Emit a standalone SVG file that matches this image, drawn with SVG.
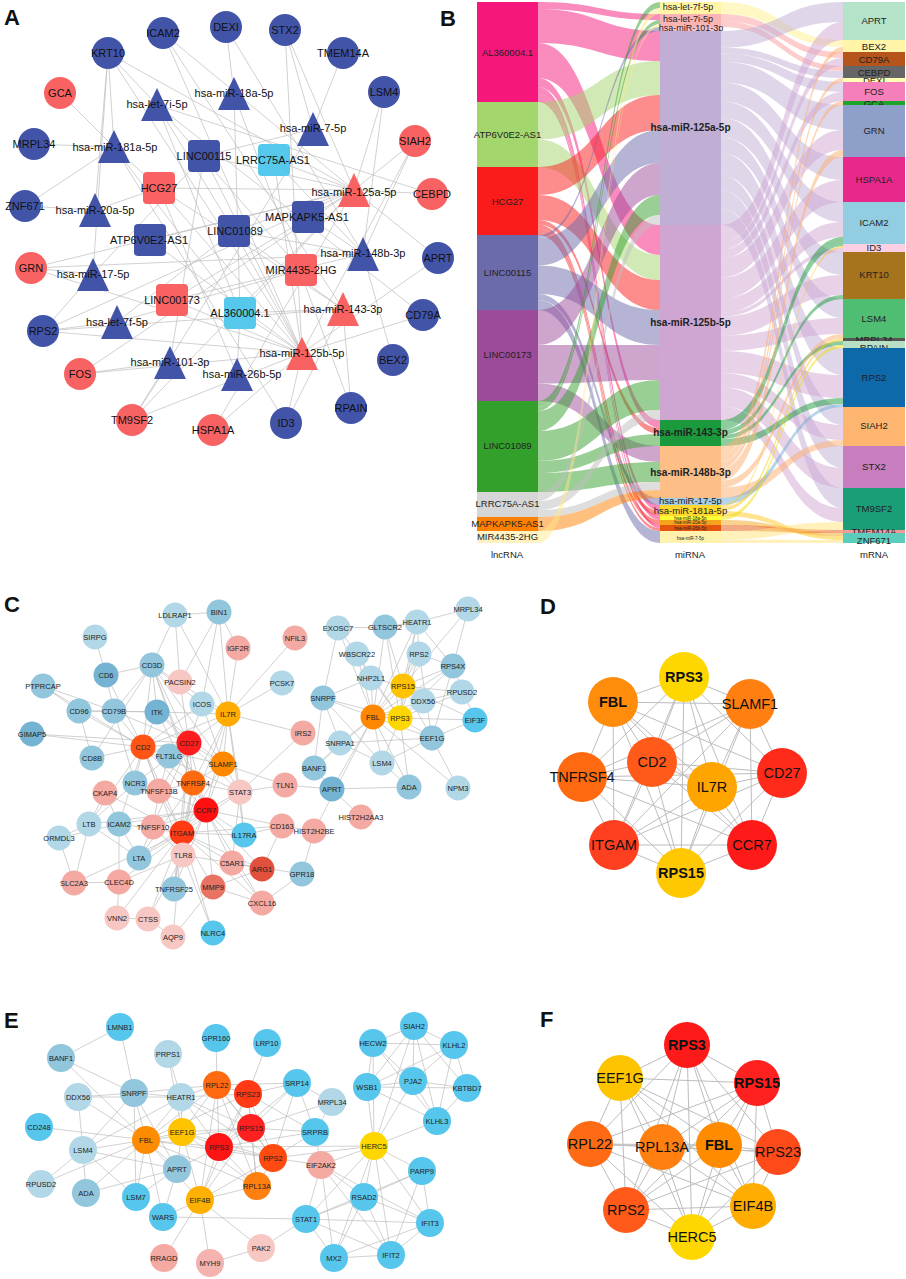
<svg xmlns="http://www.w3.org/2000/svg" width="906" height="1279" viewBox="0 0 906 1279">
<style>
text{font-family:"Liberation Sans",Arial,Helvetica,sans-serif;text-anchor:middle;dominant-baseline:central;fill:#111}
.pl{font-size:22px;font-weight:bold;dominant-baseline:auto;text-anchor:start}
.ta text{font-size:11px}
.ab{fill:#4254a8}.ar{fill:#f96262}.al{fill:#55c8ec}
.ea path{stroke:#bdbdbd;stroke-width:.7;fill:none}
.en path{stroke:#bdbdbd;stroke-width:.7;fill:none}
.ek path{stroke:#bdbdbd;stroke-width:1;fill:none}
.sm text{font-size:7.5px;fill:#222}
.big text{font-size:14.5px}
.bd{font-weight:bold}
.l{fill:#b2d8e8}.m{fill:#92c6dc}.d{fill:#74b4d2}.br{fill:#56c6ec}.p{fill:#f4aaa3}.q{fill:#f7c7c3}
.sk text{font-size:9.5px;fill:#222}
.sk .mi{font-size:9px}
.sk .mb{font-size:10px;font-weight:bold}
.sk .ms{font-size:4.5px}
.fl path{opacity:.5}
.ax{font-size:10px;fill:#666}
</style>

<!-- Panel letters -->
<text class="pl" x="4" y="25">A</text>
<text class="pl" x="440" y="26">B</text>
<text class="pl" x="4" y="612">C</text>
<text class="pl" x="540" y="614">D</text>
<text class="pl" x="4" y="1028">E</text>
<text class="pl" x="540" y="1027">F</text>

<!-- ================= Panel A connectors ================= -->
<g id="a-connectors" class="ea">
<path d="M240 313L157 105"/><path d="M240 313L354 190"/><path d="M240 313L302 353"/><path d="M240 313L343 309"/><path d="M240 313L114 147"/><path d="M240 313L234 94"/><path d="M240 313L237 374"/>
<path d="M150 240L354 190"/><path d="M150 240L302 353"/>
<path d="M159 188L354 190"/><path d="M159 188L302 353"/><path d="M159 188L343 309"/><path d="M159 188L114 147"/><path d="M159 188L95 210"/><path d="M159 188L237 374"/>
<path d="M204 156L170 362"/><path d="M204 156L354 190"/><path d="M204 156L302 353"/><path d="M204 156L93 274"/><path d="M204 156L313 129"/>
<path d="M172 300L354 190"/><path d="M172 300L302 353"/><path d="M172 300L363 254"/>
<path d="M234 231L117 322"/><path d="M234 231L157 105"/><path d="M234 231L354 190"/><path d="M234 231L302 353"/><path d="M234 231L343 309"/><path d="M234 231L363 254"/>
<path d="M274 160L354 190"/><path d="M274 160L302 353"/><path d="M274 160L363 254"/>
<path d="M308 217L363 254"/><path d="M301 270L117 322"/><path d="M301 270L157 105"/>
<path d="M108 53L114 147"/><path d="M108 53L95 210"/><path d="M108 53L93 274"/><path d="M108 53L157 105"/><path d="M108 53L354 190"/><path d="M108 53L302 353"/>
<path d="M163 33L354 190"/><path d="M163 33L302 353"/><path d="M163 33L343 309"/>
<path d="M226 27L234 94"/><path d="M226 27L363 254"/>
<path d="M285 30L313 129"/><path d="M285 30L354 190"/><path d="M285 30L302 353"/>
<path d="M343 53L313 129"/>
<path d="M384 92L354 190"/><path d="M384 92L363 254"/>
<path d="M60 93L114 147"/>
<path d="M415 141L354 190"/><path d="M415 141L302 353"/><path d="M415 141L363 254"/>
<path d="M34 144L114 147"/>
<path d="M432 194L157 105"/><path d="M432 194L354 190"/>
<path d="M25 206L114 147"/><path d="M25 206L95 210"/>
<path d="M31 268L93 274"/><path d="M31 268L354 190"/><path d="M31 268L302 353"/><path d="M31 268L363 254"/>
<path d="M438 258L354 190"/><path d="M438 258L302 353"/>
<path d="M43 331L117 322"/><path d="M43 331L93 274"/><path d="M43 331L354 190"/><path d="M43 331L302 353"/><path d="M43 331L343 309"/>
<path d="M423 315L157 105"/><path d="M423 315L302 353"/>
<path d="M80 374L170 362"/><path d="M80 374L354 190"/><path d="M80 374L302 353"/>
<path d="M393 360L363 254"/>
<path d="M132 420L170 362"/><path d="M132 420L354 190"/><path d="M132 420L302 353"/><path d="M132 420L313 129"/>
<path d="M213 430L354 190"/><path d="M213 430L302 353"/>
<path d="M286 423L302 353"/><path d="M286 423L343 309"/><path d="M286 423L114 147"/>
<path d="M351 408L343 309"/><path d="M351 408L234 94"/>
</g>

<!-- ================= Panel A nodes ================= -->
<g class="ta">
<g id="a-KRT10"><circle cx="108" cy="53" r="16" class="ab"/><text x="108" y="53">KRT10</text></g>
<g id="a-ICAM2"><circle cx="163" cy="33" r="16" class="ab"/><text x="163" y="33">ICAM2</text></g>
<g id="a-DEXI"><circle cx="226" cy="27" r="16" class="ab"/><text x="226" y="27">DEXI</text></g>
<g id="a-STX2"><circle cx="285" cy="30" r="16" class="ab"/><text x="285" y="30">STX2</text></g>
<g id="a-TMEM14A"><circle cx="343" cy="53" r="16" class="ab"/><text x="343" y="53">TMEM14A</text></g>
<g id="a-LSM4"><circle cx="384" cy="92" r="16" class="ab"/><text x="384" y="92">LSM4</text></g>
<g id="a-GCA"><circle cx="60" cy="93" r="16" class="ar"/><text x="60" y="93">GCA</text></g>
<g id="a-SIAH2"><circle cx="415" cy="141" r="16" class="ar"/><text x="415" y="141">SIAH2</text></g>
<g id="a-MRPL34"><circle cx="34" cy="144" r="16" class="ab"/><text x="34" y="144">MRPL34</text></g>
<g id="a-CEBPD"><circle cx="432" cy="194" r="16" class="ar"/><text x="432" y="194">CEBPD</text></g>
<g id="a-ZNF671"><circle cx="25" cy="206" r="16" class="ab"/><text x="25" y="206">ZNF671</text></g>
<g id="a-GRN"><circle cx="31" cy="268" r="16" class="ar"/><text x="31" y="268">GRN</text></g>
<g id="a-APRT"><circle cx="438" cy="258" r="16" class="ab"/><text x="438" y="258">APRT</text></g>
<g id="a-RPS2"><circle cx="43" cy="331" r="16" class="ab"/><text x="43" y="331">RPS2</text></g>
<g id="a-CD79A"><circle cx="423" cy="315" r="16" class="ab"/><text x="423" y="315">CD79A</text></g>
<g id="a-FOS"><circle cx="80" cy="374" r="16" class="ar"/><text x="80" y="374">FOS</text></g>
<g id="a-BEX2"><circle cx="393" cy="360" r="16" class="ab"/><text x="393" y="360">BEX2</text></g>
<g id="a-TM9SF2"><circle cx="132" cy="420" r="16" class="ar"/><text x="132" y="420">TM9SF2</text></g>
<g id="a-HSPA1A"><circle cx="213" cy="430" r="16" class="ar"/><text x="213" y="430">HSPA1A</text></g>
<g id="a-ID3"><circle cx="286" cy="423" r="16" class="ab"/><text x="286" y="423">ID3</text></g>
<g id="a-RPAIN"><circle cx="351" cy="408" r="16" class="ab"/><text x="351" y="408">RPAIN</text></g>

<g id="a-LINC00115"><rect x="188" y="140" width="32" height="32" rx="4" class="ab"/><text x="204" y="156">LINC00115</text></g>
<g id="a-LRRC75A-AS1"><rect x="258" y="144" width="32" height="32" rx="4" class="al"/><text x="273" y="160">LRRC75A-AS1</text></g>
<g id="a-HCG27"><rect x="143" y="172" width="32" height="32" rx="4" class="ar"/><text x="159" y="188">HCG27</text></g>
<g id="a-MAPKAPK5-AS1"><rect x="292" y="201" width="32" height="32" rx="4" class="ab"/><text x="307" y="217">MAPKAPK5-AS1</text></g>
<g id="a-LINC01089"><rect x="218" y="215" width="32" height="32" rx="4" class="ab"/><text x="235" y="231">LINC01089</text></g>
<g id="a-ATP6V0E2-AS1"><rect x="134" y="224" width="32" height="32" rx="4" class="ab"/><text x="149" y="240">ATP6V0E2-AS1</text></g>
<g id="a-MIR4435-2HG"><rect x="285" y="254" width="32" height="32" rx="4" class="ar"/><text x="301" y="270">MIR4435-2HG</text></g>
<g id="a-LINC00173"><rect x="156" y="284" width="32" height="32" rx="4" class="ar"/><text x="172" y="300">LINC00173</text></g>
<g id="a-AL360004.1"><rect x="224" y="297" width="32" height="32" rx="4" class="al"/><text x="240" y="313">AL360004.1</text></g>

<g id="a-let-7i"><polygon points="157,88 141,121 173,121" class="ab"/><text x="157" y="104">hsa-let-7i-5p</text></g>
<g id="a-miR-18a"><polygon points="234,77 218,110 250,110" class="ab"/><text x="234" y="93">hsa-miR-18a-5p</text></g>
<g id="a-miR-7"><polygon points="313,112 297,146 329,146" class="ab"/><text x="313" y="128">hsa-miR-7-5p</text></g>
<g id="a-miR-181a"><polygon points="114,130 98,163 130,163" class="ab"/><text x="115" y="147">hsa-miR-181a-5p</text></g>
<g id="a-miR-20a"><polygon points="95,193 79,227 111,227" class="ab"/><text x="95" y="210">hsa-miR-20a-5p</text></g>
<g id="a-miR-17"><polygon points="93,258 77,291 109,291" class="ab"/><text x="93" y="274">hsa-miR-17-5p</text></g>
<g id="a-let-7f"><polygon points="117,305 101,339 133,339" class="ab"/><text x="117" y="322">hsa-let-7f-5p</text></g>
<g id="a-miR-101"><polygon points="170,346 154,379 186,379" class="ab"/><text x="170" y="362">hsa-miR-101-3p</text></g>
<g id="a-miR-26b"><polygon points="237,358 221,391 253,391" class="ab"/><text x="242" y="374">hsa-miR-26b-5p</text></g>
<g id="a-miR-148b"><polygon points="363,237 347,271 379,271" class="ab"/><text x="363" y="253">hsa-miR-148b-3p</text></g>
<g id="a-miR-125a"><polygon points="354,173 338,207 370,207" class="ar"/><text x="354" y="192">hsa-miR-125a-5p</text></g>
<g id="a-miR-143"><polygon points="343,292 327,326 359,326" class="ar"/><text x="343" y="309">hsa-miR-143-3p</text></g>
<g id="a-miR-125b"><polygon points="302,337 286,370 318,370" class="ar"/><text x="302" y="353">hsa-miR-125b-5p</text></g>
</g>

<!-- ================= Panel B flows ================= -->
<g id="b-connectors" class="fl">
<path fill="#f5177c" d="M538 2C599 2 599 14 660 14L660 20C599 20 599 9 538 9Z"/>
<path fill="#f5177c" d="M538 9C599 9 599 31 660 31L660 61C599 61 599 43 538 43Z"/>
<path fill="#f5177c" d="M538 43C599 43 599 225 660 225L660 255C599 255 599 78 538 78Z"/>
<path fill="#f5177c" d="M538 78C599 78 599 420 660 420L660 428C599 428 599 87 538 87Z"/>
<path fill="#f5177c" d="M538 87C599 87 599 505 660 505L660 511C599 511 599 94 538 94Z"/>
<path fill="#f5177c" d="M538 94C599 94 599 516 660 516L660 520C599 520 599 98.6 538 98.6Z"/>
<path fill="#f5177c" d="M538 98.6C599 98.6 599 525 660 525L660 528C599 528 599 102 538 102Z"/>
<path fill="#a3d66c" d="M538 102C599 102 599 61 660 61L660 95C599 95 599 139.5 538 139.5Z"/>
<path fill="#a3d66c" d="M538 139.5C599 139.5 599 255 660 255L660 280C599 280 599 167 538 167Z"/>
<path fill="#fb1b1b" d="M538 167C599 167 599 95 660 95L660 130C599 130 599 195 538 195Z"/>
<path fill="#fb1b1b" d="M538 195C599 195 599 280 660 280L660 310C599 310 599 220 538 220Z"/>
<path fill="#fb1b1b" d="M538 220C599 220 599 428 660 428L660 434C599 434 599 224.5 538 224.5Z"/>
<path fill="#fb1b1b" d="M538 224.5C599 224.5 599 511 660 511L660 516C599 516 599 228.5 538 228.5Z"/>
<path fill="#fb1b1b" d="M538 228.5C599 228.5 599 520 660 520L660 525C599 525 599 232.6 538 232.6Z"/>
<path fill="#fb1b1b" d="M538 232.6C599 232.6 599 528 660 528L660 531C599 531 599 235 538 235Z"/>
<path fill="#6b6aab" d="M538 235C599 235 599 27 660 27L660 31C599 31 599 238 538 238Z"/>
<path fill="#6b6aab" d="M538 238C599 238 599 130 660 130L660 163C599 163 599 265.5 538 265.5Z"/>
<path fill="#6b6aab" d="M538 265.5C599 265.5 599 310 660 310L660 345C599 345 599 294 538 294Z"/>
<path fill="#6b6aab" d="M538 294C599 294 599 498 660 498L660 505C599 505 599 300 538 300Z"/>
<path fill="#6b6aab" d="M538 300C599 300 599 531 660 531L660 543C599 543 599 310 538 310Z"/>
<path fill="#9c4b9b" d="M538 310C599 310 599 163 660 163L660 195C599 195 599 345 538 345Z"/>
<path fill="#9c4b9b" d="M538 345C599 345 599 345 660 345L660 380C599 380 599 383.5 538 383.5Z"/>
<path fill="#9c4b9b" d="M538 383.5C599 383.5 599 446 660 446L660 462C599 462 599 401 538 401Z"/>
<path fill="#34a02c" d="M538 401C599 401 599 2 660 2L660 8C599 8 599 407 538 407Z"/>
<path fill="#34a02c" d="M538 407C599 407 599 20 660 20L660 24C599 24 599 411 538 411Z"/>
<path fill="#34a02c" d="M538 411C599 411 599 195 660 195L660 215C599 215 599 431 538 431Z"/>
<path fill="#34a02c" d="M538 431C599 431 599 380 660 380L660 410C599 410 599 461 538 461Z"/>
<path fill="#34a02c" d="M538 461C599 461 599 434 660 434L660 446C599 446 599 473 538 473Z"/>
<path fill="#34a02c" d="M538 473C599 473 599 462 660 462L660 482C599 482 599 492 538 492Z"/>
<path fill="#bdbdbd" d="M538 492C599 492 599 215 660 215L660 225C599 225 599 501 538 501Z"/>
<path fill="#bdbdbd" d="M538 501C599 501 599 410 660 410L660 420C599 420 599 510 538 510Z"/>
<path fill="#bdbdbd" d="M538 510C599 510 599 482 660 482L660 490C599 490 599 517 538 517Z"/>
<path fill="#ff7f00" d="M538 517C599 517 599 490 660 490L660 498C599 498 599 531 538 531Z"/>
<path fill="#ffe98a" d="M538 531C599 531 599 8 660 8L660 14C599 14 599 539 538 539Z"/>
<path fill="#ffe98a" d="M538 539C599 539 599 24 660 24L660 27C599 27 599 543 538 543Z"/>

<path fill="#fff08a" d="M721 2C782 2 782 40 843 40L843 47C782 47 782 14 721 14Z"/>
<path fill="#fb9b9b" d="M721 14C782 14 782 52 843 52L843 58C782 58 782 21 721 21Z"/>
<path fill="#fb9b9b" d="M721 21C782 21 782 66 843 66L843 71C782 71 782 27 721 27Z"/>
<path fill="#c0aed5" d="M721 31C782 31 782 2 843 2L843 22C782 22 782 47.6 721 47.6Z"/>
<path fill="#c0aed5" d="M721 47.6C782 47.6 782 71 843 71L843 78C782 78 782 53.4 721 53.4Z"/>
<path fill="#c0aed5" d="M721 53.4C782 53.4 782 82 843 82L843 92C782 92 782 61.7 721 61.7Z"/>
<path fill="#c0aed5" d="M721 61.7C782 61.7 782 105 843 105L843 130C782 130 782 82.4 721 82.4Z"/>
<path fill="#c0aed5" d="M721 82.4C782 82.4 782 157 843 157L843 180C782 180 782 101.5 721 101.5Z"/>
<path fill="#c0aed5" d="M721 101.5C782 101.5 782 202 843 202L843 222C782 222 782 118.1 721 118.1Z"/>
<path fill="#c0aed5" d="M721 118.1C782 118.1 782 252 843 252L843 275C782 275 782 137.2 721 137.2Z"/>
<path fill="#c0aed5" d="M721 137.2C782 137.2 782 299 843 299L843 318C782 318 782 153 721 153Z"/>
<path fill="#c0aed5" d="M721 153C782 153 782 348 843 348L843 375C782 375 782 175.4 721 175.4Z"/>
<path fill="#c0aed5" d="M721 175.4C782 175.4 782 407 843 407L843 425C782 425 782 190.3 721 190.3Z"/>
<path fill="#c0aed5" d="M721 190.3C782 190.3 782 446 843 446L843 468C782 468 782 208.5 721 208.5Z"/>
<path fill="#c0aed5" d="M721 208.5C782 208.5 782 488 843 488L843 508C782 508 782 225 721 225Z"/>
<path fill="#cfa6d1" d="M721 225C782 225 782 22 843 22L843 40C782 40 782 242.2 721 242.2Z"/>
<path fill="#cfa6d1" d="M721 242.2C782 242.2 782 58 843 58L843 66C782 66 782 249.8 721 249.8Z"/>
<path fill="#cfa6d1" d="M721 249.8C782 249.8 782 92 843 92L843 101C782 101 782 258.4 721 258.4Z"/>
<path fill="#cfa6d1" d="M721 258.4C782 258.4 782 130 843 130L843 150C782 150 782 277.5 721 277.5Z"/>
<path fill="#cfa6d1" d="M721 277.5C782 277.5 782 180 843 180L843 202C782 202 782 298.5 721 298.5Z"/>
<path fill="#cfa6d1" d="M721 298.5C782 298.5 782 222 843 222L843 237C782 237 782 312.8 721 312.8Z"/>
<path fill="#cfa6d1" d="M721 312.8C782 312.8 782 248 843 248L843 252C782 252 782 316.6 721 316.6Z"/>
<path fill="#cfa6d1" d="M721 316.6C782 316.6 782 275 843 275L843 295C782 295 782 335.7 721 335.7Z"/>
<path fill="#cfa6d1" d="M721 335.7C782 335.7 782 318 843 318L843 334C782 334 782 351 721 351Z"/>
<path fill="#cfa6d1" d="M721 351C782 351 782 375 843 375L843 398C782 398 782 373 721 373Z"/>
<path fill="#cfa6d1" d="M721 373C782 373 782 425 843 425L843 440C782 440 782 387.3 721 387.3Z"/>
<path fill="#cfa6d1" d="M721 387.3C782 387.3 782 468 843 468L843 488C782 488 782 406.4 721 406.4Z"/>
<path fill="#cfa6d1" d="M721 406.4C782 406.4 782 508 843 508L843 522C782 522 782 420 721 420Z"/>
<path fill="#1a9a3c" d="M721 420C782 420 782 237 843 237L843 244C782 244 782 428 721 428Z"/>
<path fill="#1a9a3c" d="M721 428C782 428 782 244 843 244L843 246C782 246 782 430 721 430Z"/>
<path fill="#1a9a3c" d="M721 430C782 430 782 295 843 295L843 299C782 299 782 435 721 435Z"/>
<path fill="#1a9a3c" d="M721 435C782 435 782 341 843 341L843 345C782 345 782 439 721 439Z"/>
<path fill="#1a9a3c" d="M721 439C782 439 782 398 843 398L843 404C782 404 782 446 721 446Z"/>
<path fill="#fdae6b" d="M721 446C782 446 782 47 843 47L843 52C782 52 782 455 721 455Z"/>
<path fill="#fdae6b" d="M721 455C782 455 782 78 843 78L843 82C782 82 782 462 721 462Z"/>
<path fill="#fdae6b" d="M721 462C782 462 782 101 843 101L843 105C782 105 782 468.5 721 468.5Z"/>
<path fill="#fdae6b" d="M721 468.5C782 468.5 782 150 843 150L843 157C782 157 782 480.6 721 480.6Z"/>
<path fill="#fdae6b" d="M721 480.6C782 480.6 782 334 843 334L843 338C782 338 782 487.5 721 487.5Z"/>
<path fill="#fdae6b" d="M721 487.5C782 487.5 782 440 843 440L843 446C782 446 782 498 721 498Z"/>
<path fill="#6baed6" d="M721 498C782 498 782 404 843 404L843 407C782 407 782 505 721 505Z"/>
<path fill="#ffc81e" d="M721 505C782 505 782 246 843 246L843 248C782 248 782 507.4 721 507.4Z"/>
<path fill="#ffc81e" d="M721 507.4C782 507.4 782 338 843 338L843 341C782 341 782 511 721 511Z"/>
<path fill="#ffc81e" d="M721 511C782 511 782 536 843 536L843 540C782 540 782 516 721 516Z"/>
<path fill="#f0e000" d="M721 516C782 516 782 345 843 345L843 348C782 348 782 520 721 520Z"/>
<path fill="#f5a31d" d="M721 520C782 520 782 533 843 533L843 536C782 536 782 525 721 525Z"/>
<path fill="#e6550d" d="M721 525C782 525 782 530 843 530L843 533C782 533 782 531 721 531Z"/>
<path fill="#ffe27a" d="M721 531C782 531 782 522 843 522L843 530C782 530 782 539.7 721 539.7Z"/>
<path fill="#ffe27a" d="M721 539.7C782 539.7 782 540 843 540L843 543C782 543 782 543 721 543Z"/>
</g>

<!-- ================= Panel B blocks ================= -->
<g class="sk">
<g id="b-AL360004.1"><rect x="477" y="2" width="61" height="100" fill="#f5177c"/><text x="507.5" y="52">AL360004.1</text></g>
<g id="b-ATP6V0E2-AS1"><rect x="477" y="102" width="61" height="65" fill="#a3d66c"/><text x="507.5" y="134.5">ATP6V0E2-AS1</text></g>
<g id="b-HCG27"><rect x="477" y="167" width="61" height="68" fill="#fb1b1b"/><text x="507.5" y="201">HCG27</text></g>
<g id="b-LINC00115"><rect x="477" y="235" width="61" height="75" fill="#6b6aab"/><text x="507.5" y="272">LINC00115</text></g>
<g id="b-LINC00173"><rect x="477" y="310" width="61" height="91" fill="#9c4b9b"/><text x="507.5" y="354">LINC00173</text></g>
<g id="b-LINC01089"><rect x="477" y="401" width="61" height="91" fill="#34a02c"/><text x="507.5" y="445">LINC01089</text></g>
<g id="b-LRRC75A-AS1"><rect x="477" y="492" width="61" height="25" fill="#d6d6d6"/><text x="507.5" y="503">LRRC75A-AS1</text></g>
<g id="b-MAPKAPK5-AS1"><rect x="477" y="517" width="61" height="14" fill="#ff7f00"/><text x="507.5" y="523.5">MAPKAPK5-AS1</text></g>
<g id="b-MIR4435-2HG"><rect x="477" y="531" width="61" height="12" fill="#fff3c4"/><text x="507.5" y="536.5">MIR4435-2HG</text></g>

<g id="b-let-7f"><rect x="660" y="2" width="61" height="12" fill="#fff5a5"/><text x="688" y="7" class="mi">hsa-let-7f-5p</text></g>
<g id="b-let-7i"><rect x="660" y="14" width="61" height="13" fill="#fbb4b4"/><text x="688" y="19" class="mi">hsa-let-7i-5p</text></g>
<g id="b-miR-101"><rect x="660" y="27" width="61" height="4" fill="#f9c0c9"/><text x="691" y="28" class="mi">hsa-miR-101-3p</text></g>
<g id="b-miR-125a"><rect x="660" y="31" width="61" height="194" fill="#c0aed5"/><text x="690.5" y="127" class="mb">hsa-miR-125a-5p</text></g>
<g id="b-miR-125b"><rect x="660" y="225" width="61" height="195" fill="#cfa6d1"/><text x="690.5" y="322" class="mb">hsa-miR-125b-5p</text></g>
<g id="b-miR-143"><rect x="660" y="420" width="61" height="26" fill="#1a9a3c"/><text x="690.5" y="432" class="mb">hsa-miR-143-3p</text></g>
<g id="b-miR-148b"><rect x="660" y="446" width="61" height="52" fill="#fdbf86"/><text x="690.5" y="472" class="mb">hsa-miR-148b-3p</text></g>
<g id="b-miR-17"><rect x="660" y="498" width="61" height="7" fill="#a6cee3"/><text x="690.5" y="500.5">hsa-miR-17-5p</text></g>
<g id="b-miR-181a"><rect x="660" y="505" width="61" height="11" fill="#ffd92f"/><text x="690.5" y="510">hsa-miR-181a-5p</text></g>
<g id="b-miR-18a"><rect x="660" y="516" width="61" height="4" fill="#ffff33"/><text x="690.5" y="518" class="ms">hsa-miR-18a-5p</text></g>
<g id="b-miR-20a"><rect x="660" y="520" width="61" height="5" fill="#f5a31d"/><text x="690.5" y="522.5" class="ms">hsa-miR-20a-5p</text></g>
<g id="b-miR-26b"><rect x="660" y="525" width="61" height="6" fill="#e6550d"/><text x="690.5" y="528" class="ms">hsa-miR-26b-5p</text></g>
<g id="b-miR-7"><rect x="660" y="531" width="61" height="12" fill="#fff2ae"/><text x="690.5" y="538" class="ms">hsa-miR-7-5p</text></g>

<g id="b-APRT"><rect x="843" y="2" width="62" height="38" fill="#b5e3c9"/><text x="874" y="20">APRT</text></g>
<g id="b-BEX2"><rect x="843" y="40" width="62" height="12" fill="#fff4a8"/><text x="874" y="46">BEX2</text></g>
<g id="b-CD79A"><rect x="843" y="52" width="62" height="14" fill="#b5551c"/><text x="874" y="59">CD79A</text></g>
<g id="b-CEBPD"><rect x="843" y="66" width="62" height="12" fill="#666666"/><text x="874" y="72">CEBPD</text></g>
<g id="b-DEXI"><rect x="843" y="78" width="62" height="4" fill="#ffffb3"/><text x="874" y="80">DEXI</text></g>
<g id="b-FOS"><rect x="843" y="82" width="62" height="19" fill="#f47fbb"/><text x="874" y="91">FOS</text></g>
<g id="b-GCA"><rect x="843" y="101" width="62" height="4" fill="#1ea32b"/><text x="874" y="103">GCA</text></g>
<g id="b-GRN"><rect x="843" y="105" width="62" height="52" fill="#8e9fca"/><text x="874" y="130">GRN</text></g>
<g id="b-HSPA1A"><rect x="843" y="157" width="62" height="45" fill="#e8298b"/><text x="874" y="179">HSPA1A</text></g>
<g id="b-ICAM2"><rect x="843" y="202" width="62" height="42" fill="#93cde1"/><text x="874" y="222">ICAM2</text></g>
<g id="b-ID3"><rect x="843" y="244" width="62" height="8" fill="#fcd0e4"/><text x="874" y="247">ID3</text></g>
<g id="b-KRT10"><rect x="843" y="252" width="62" height="47" fill="#a6741c"/><text x="874" y="274">KRT10</text></g>
<g id="b-LSM4"><rect x="843" y="299" width="62" height="39" fill="#50be72"/><text x="874" y="318">LSM4</text></g>
<g id="b-MRPL34"><rect x="843" y="338" width="62" height="3" fill="#555555"/><text x="874" y="339">MRPL34</text></g>
<g id="b-RPAIN"><rect x="843" y="341" width="62" height="7" fill="#b8e0c6"/><text x="874" y="347">RPAIN</text></g>
<g id="b-RPS2"><rect x="843" y="348" width="62" height="59" fill="#0d69aa"/><text x="874" y="377">RPS2</text></g>
<g id="b-SIAH2"><rect x="843" y="407" width="62" height="39" fill="#fdb56f"/><text x="874" y="425">SIAH2</text></g>
<g id="b-STX2"><rect x="843" y="446" width="62" height="42" fill="#c67ebf"/><text x="874" y="466">STX2</text></g>
<g id="b-TM9SF2"><rect x="843" y="488" width="62" height="42" fill="#1a9e78"/><text x="874" y="508">TM9SF2</text></g>
<g id="b-TMEM14A"><rect x="843" y="530" width="62" height="3" fill="#f59a9a"/><text x="874" y="531">TMEM14A</text></g>
<g id="b-ZNF671"><rect x="843" y="533" width="62" height="10" fill="#5ccdbc"/><text x="874" y="540">ZNF671</text></g>

<text class="ax" x="507" y="554">lncRNA</text>
<text class="ax" x="690" y="554">miRNA</text>
<text class="ax" x="874" y="554">mRNA</text>
</g>

<!-- ================= Panel C connectors ================= -->
<g id="c-connectors" class="en">
<path d="M143 747L152 665"/><path d="M143 747L106 675"/><path d="M143 747L114 711"/><path d="M143 747L157 712"/><path d="M143 747L79 711"/><path d="M143 747L32 734"/><path d="M143 747L92 758"/><path d="M143 747L135 783"/><path d="M143 747L189 743"/><path d="M143 747L228 714"/><path d="M143 747L169 756"/><path d="M143 747L193 783"/><path d="M143 747L206 810"/><path d="M143 747L182 833"/><path d="M143 747L159 791"/><path d="M143 747L119 824"/><path d="M143 747L89 824"/><path d="M143 747L223 764"/><path d="M143 747L202 704"/><path d="M143 747L43 686"/><path d="M143 747L183 855"/><path d="M143 747L240 792"/>
<path d="M189 743L152 665"/><path d="M189 743L157 712"/><path d="M189 743L202 704"/><path d="M189 743L228 714"/><path d="M189 743L169 756"/><path d="M189 743L223 764"/><path d="M189 743L193 783"/><path d="M189 743L206 810"/><path d="M189 743L182 833"/><path d="M189 743L159 791"/><path d="M189 743L114 711"/><path d="M189 743L139 858"/><path d="M189 743L174 889"/><path d="M189 743L240 792"/><path d="M189 743L180 682"/><path d="M189 743L32 734"/>
<path d="M228 714L219 612"/><path d="M228 714L238 648"/><path d="M228 714L175 615"/><path d="M228 714L202 704"/><path d="M228 714L152 665"/><path d="M228 714L157 712"/><path d="M228 714L223 764"/><path d="M228 714L240 792"/><path d="M228 714L206 810"/><path d="M228 714L182 833"/><path d="M228 714L244 835"/><path d="M228 714L193 783"/><path d="M228 714L282 683"/><path d="M228 714L295 638"/><path d="M228 714L303 733"/>
<path d="M206 810L152 665"/><path d="M206 810L157 712"/><path d="M206 810L193 783"/><path d="M206 810L182 833"/><path d="M206 810L223 764"/><path d="M206 810L244 835"/><path d="M206 810L183 855"/><path d="M206 810L232 863"/><path d="M206 810L213 887"/><path d="M206 810L153 827"/><path d="M206 810L282 826"/><path d="M206 810L240 792"/><path d="M206 810L89 824"/><path d="M206 810L119 824"/><path d="M206 810L139 858"/><path d="M206 810L174 889"/><path d="M206 810L262 903"/><path d="M206 810L262 869"/><path d="M206 810L135 783"/>
<path d="M182 833L183 855"/><path d="M182 833L232 863"/><path d="M182 833L262 869"/><path d="M182 833L213 887"/><path d="M182 833L262 903"/><path d="M182 833L282 826"/><path d="M182 833L240 792"/><path d="M182 833L159 791"/><path d="M182 833L153 827"/><path d="M182 833L119 882"/><path d="M182 833L148 919"/><path d="M182 833L173 937"/><path d="M182 833L117 918"/><path d="M182 833L74 883"/><path d="M182 833L139 858"/><path d="M182 833L244 835"/><path d="M182 833L174 889"/><path d="M182 833L213 933"/><path d="M182 833L105 793"/><path d="M182 833L119 824"/><path d="M182 833L193 783"/><path d="M182 833L223 764"/>
<path d="M223 764L193 783"/><path d="M223 764L152 665"/><path d="M223 764L157 712"/><path d="M223 764L202 704"/><path d="M223 764L240 792"/><path d="M223 764L285 785"/>
<path d="M193 783L159 791"/><path d="M193 783L240 792"/><path d="M193 783L183 855"/><path d="M193 783L139 858"/><path d="M193 783L174 889"/><path d="M193 783L152 665"/>
<path d="M175 615L219 612"/><path d="M175 615L152 665"/><path d="M175 615L180 682"/><path d="M219 612L238 648"/><path d="M219 612L180 682"/><path d="M219 612L202 704"/>
<path d="M95 637L106 675"/><path d="M106 675L152 665"/><path d="M106 675L114 711"/><path d="M152 665L114 711"/><path d="M152 665L157 712"/><path d="M152 665L202 704"/>
<path d="M43 686L114 711"/><path d="M43 686L79 711"/><path d="M79 711L114 711"/><path d="M79 711L92 758"/><path d="M79 711L157 712"/><path d="M114 711L157 712"/><path d="M114 711L135 783"/><path d="M92 758L152 665"/>
<path d="M135 783L189 743"/><path d="M135 783L89 824"/><path d="M135 783L159 791"/><path d="M105 793L89 824"/><path d="M105 793L119 824"/><path d="M89 824L59 838"/><path d="M89 824L74 883"/><path d="M89 824L139 858"/><path d="M59 838L119 824"/><path d="M59 838L74 883"/><path d="M119 824L139 858"/><path d="M119 824L119 882"/>
<path d="M74 883L119 882"/><path d="M119 882L117 918"/><path d="M119 882L183 855"/><path d="M117 918L148 919"/><path d="M148 919L183 855"/><path d="M148 919L173 937"/><path d="M173 937L213 887"/><path d="M183 855L232 863"/><path d="M183 855L213 933"/>
<path d="M232 863L262 869"/><path d="M232 863L262 903"/><path d="M213 887L262 869"/><path d="M213 887L262 903"/><path d="M262 869L282 826"/><path d="M282 826L244 835"/><path d="M282 826L314 831"/><path d="M262 903L302 874"/>
<path d="M285 785L240 792"/><path d="M285 785L332 789"/><path d="M303 733L240 792"/><path d="M240 792L244 835"/><path d="M240 792L232 863"/><path d="M314 831L302 874"/><path d="M302 874L232 863"/><path d="M361 817L332 789"/>
<path d="M314 768L332 789"/><path d="M314 768L323 698"/><path d="M314 768L373 717"/><path d="M314 768L340 743"/><path d="M183 855L153 827"/><path d="M153 827L159 791"/><path d="M159 791L169 756"/>
<path d="M373 717L323 698"/><path d="M373 717L371 678"/><path d="M373 717L403 686"/><path d="M373 717L400 718"/><path d="M373 717L423 701"/><path d="M373 717L432 738"/><path d="M373 717L340 743"/><path d="M373 717L382 763"/><path d="M373 717L332 789"/><path d="M373 717L409 787"/><path d="M373 717L357 654"/><path d="M373 717L338 628"/><path d="M373 717L385 627"/><path d="M373 717L417 622"/><path d="M373 717L419 654"/><path d="M373 717L458 788"/><path d="M373 717L314 831"/><path d="M373 717L453 666"/>
<path d="M400 718L403 686"/><path d="M400 718L419 654"/><path d="M400 718L453 666"/><path d="M400 718L432 738"/><path d="M400 718L475 720"/><path d="M400 718L423 701"/><path d="M400 718L371 678"/><path d="M400 718L385 627"/><path d="M400 718L417 622"/><path d="M400 718L462 692"/><path d="M400 718L357 654"/><path d="M400 718L382 763"/><path d="M400 718L323 698"/><path d="M400 718L409 787"/>
<path d="M403 686L419 654"/><path d="M403 686L453 666"/><path d="M403 686L417 622"/><path d="M403 686L385 627"/><path d="M403 686L432 738"/><path d="M403 686L475 720"/><path d="M403 686L462 692"/><path d="M403 686L468 609"/><path d="M403 686L423 701"/><path d="M403 686L371 678"/>
<path d="M338 628L385 627"/><path d="M338 628L357 654"/><path d="M338 628L323 698"/><path d="M385 627L417 622"/><path d="M417 622L419 654"/><path d="M417 622L453 666"/><path d="M417 622L468 609"/><path d="M419 654L453 666"/><path d="M419 654L432 738"/><path d="M453 666L475 720"/><path d="M453 666L432 738"/><path d="M432 738L475 720"/><path d="M432 738L458 788"/><path d="M432 738L382 763"/>
<path d="M323 698L340 743"/><path d="M323 698L382 763"/><path d="M323 698L371 678"/><path d="M340 743L382 763"/><path d="M340 743L432 738"/><path d="M382 763L409 787"/><path d="M332 789L409 787"/><path d="M371 678L357 654"/><path d="M423 701L462 692"/><path d="M468 609L453 666"/>
</g>

<!-- ================= Panel C nodes ================= -->
<g class="sm">
<g id="c-LDLRAP1"><circle cx="175" cy="615" r="12.5" class="l"/><text x="175" y="615">LDLRAP1</text></g>
<g id="c-BIN1"><circle cx="219" cy="612" r="12.5" class="m"/><text x="219" y="612">BIN1</text></g>
<g id="c-SIRPG"><circle cx="95" cy="637" r="12.5" class="l"/><text x="95" y="637">SIRPG</text></g>
<g id="c-IGF2R"><circle cx="238" cy="648" r="12.5" class="p"/><text x="238" y="648">IGF2R</text></g>
<g id="c-NFIL3"><circle cx="295" cy="638" r="12.5" class="p"/><text x="295" y="638">NFIL3</text></g>
<g id="c-CD3D"><circle cx="152" cy="665" r="12.5" class="m"/><text x="152" y="665">CD3D</text></g>
<g id="c-CD6"><circle cx="106" cy="675" r="12.5" class="d"/><text x="106" y="675">CD6</text></g>
<g id="c-PACSIN2"><circle cx="180" cy="682" r="12.5" class="q"/><text x="180" y="682">PACSIN2</text></g>
<g id="c-PCSK7"><circle cx="282" cy="683" r="12.5" class="l"/><text x="282" y="683">PCSK7</text></g>
<g id="c-PTPRCAP"><circle cx="43" cy="686" r="12.5" class="m"/><text x="43" y="686">PTPRCAP</text></g>
<g id="c-CD96"><circle cx="79" cy="711" r="12.5" class="m"/><text x="79" y="711">CD96</text></g>
<g id="c-CD79B"><circle cx="114" cy="711" r="12.5" class="m"/><text x="114" y="711">CD79B</text></g>
<g id="c-ITK"><circle cx="157" cy="712" r="12.5" class="d"/><text x="157" y="712">ITK</text></g>
<g id="c-ICOS"><circle cx="202" cy="704" r="12.5" class="l"/><text x="202" y="704">ICOS</text></g>
<g id="c-IL7R"><circle cx="228" cy="714" r="12.5" fill="#ffab00"/><text x="228" y="714">IL7R</text></g>
<g id="c-GIMAP5"><circle cx="32" cy="734" r="12.5" class="d"/><text x="32" y="734">GIMAP5</text></g>
<g id="c-CD8B"><circle cx="92" cy="758" r="12.5" class="m"/><text x="92" y="758">CD8B</text></g>
<g id="c-CD2"><circle cx="143" cy="747" r="12.5" fill="#ff5414"/><text x="143" y="747">CD2</text></g>
<g id="c-FLT3LG"><circle cx="169" cy="756" r="12.5" class="m"/><text x="169" y="756">FLT3LG</text></g>
<g id="c-CD27"><circle cx="189" cy="743" r="12.5" fill="#ff1c1c"/><text x="189" y="743">CD27</text></g>
<g id="c-SLAMF1"><circle cx="223" cy="764" r="12.5" fill="#ff8800"/><text x="223" y="764">SLAMF1</text></g>
<g id="c-NCR3"><circle cx="135" cy="783" r="12.5" class="m"/><text x="135" y="783">NCR3</text></g>
<g id="c-CKAP4"><circle cx="105" cy="793" r="12.5" class="p"/><text x="105" y="793">CKAP4</text></g>
<g id="c-TNFSF13B"><circle cx="159" cy="791" r="12.5" class="p"/><text x="159" y="791">TNFSF13B</text></g>
<g id="c-TNFRSF4"><circle cx="193" cy="783" r="12.5" fill="#ff6a0f"/><text x="193" y="783">TNFRSF4</text></g>
<g id="c-STAT3"><circle cx="240" cy="792" r="12.5" class="q"/><text x="240" y="792">STAT3</text></g>
<g id="c-TLN1"><circle cx="285" cy="785" r="12.5" class="p"/><text x="285" y="785">TLN1</text></g>
<g id="c-CCR7"><circle cx="206" cy="810" r="12.5" fill="#ff1010"/><text x="206" y="810">CCR7</text></g>
<g id="c-LTB"><circle cx="89" cy="824" r="12.5" class="l"/><text x="89" y="824">LTB</text></g>
<g id="c-ICAM2"><circle cx="119" cy="824" r="12.5" class="m"/><text x="119" y="824">ICAM2</text></g>
<g id="c-TNFSF10"><circle cx="153" cy="827" r="12.5" class="p"/><text x="153" y="827">TNFSF10</text></g>
<g id="c-ITGAM"><circle cx="182" cy="833" r="12.5" fill="#ff3b14"/><text x="182" y="833">ITGAM</text></g>
<g id="c-IL17RA"><circle cx="244" cy="835" r="12.5" class="br"/><text x="244" y="835">IL17RA</text></g>
<g id="c-CD163"><circle cx="282" cy="826" r="12.5" class="p"/><text x="282" y="826">CD163</text></g>
<g id="c-ORMDL3"><circle cx="59" cy="838" r="12.5" class="l"/><text x="59" y="838">ORMDL3</text></g>
<g id="c-LTA"><circle cx="139" cy="858" r="12.5" class="m"/><text x="139" y="858">LTA</text></g>
<g id="c-TLR8"><circle cx="183" cy="855" r="12.5" class="q"/><text x="183" y="855">TLR8</text></g>
<g id="c-C5AR1"><circle cx="232" cy="863" r="12.5" class="p"/><text x="232" y="863">C5AR1</text></g>
<g id="c-ARG1"><circle cx="262" cy="869" r="12.5" fill="#e0503c"/><text x="262" y="869">ARG1</text></g>
<g id="c-SLC2A3"><circle cx="74" cy="883" r="12.5" class="p"/><text x="74" y="883">SLC2A3</text></g>
<g id="c-CLEC4D"><circle cx="119" cy="882" r="12.5" class="p"/><text x="119" y="882">CLEC4D</text></g>
<g id="c-TNFRSF25"><circle cx="174" cy="889" r="12.5" class="m"/><text x="174" y="889">TNFRSF25</text></g>
<g id="c-MMP9"><circle cx="213" cy="887" r="12.5" fill="#e87363"/><text x="213" y="887">MMP9</text></g>
<g id="c-CXCL16"><circle cx="262" cy="903" r="12.5" class="p"/><text x="262" y="903">CXCL16</text></g>
<g id="c-VNN2"><circle cx="117" cy="918" r="12.5" class="q"/><text x="117" y="918">VNN2</text></g>
<g id="c-CTSS"><circle cx="148" cy="919" r="12.5" class="q"/><text x="148" y="919">CTSS</text></g>
<g id="c-AQP9"><circle cx="173" cy="937" r="12.5" class="q"/><text x="173" y="937">AQP9</text></g>
<g id="c-NLRC4"><circle cx="213" cy="933" r="12.5" class="br"/><text x="213" y="933">NLRC4</text></g>
<g id="c-EXOSC7"><circle cx="338" cy="628" r="12.5" class="l"/><text x="338" y="628">EXOSC7</text></g>
<g id="c-GLTSCR2"><circle cx="385" cy="627" r="12.5" class="m"/><text x="385" y="627">GLTSCR2</text></g>
<g id="c-HEATR1"><circle cx="417" cy="622" r="12.5" class="l"/><text x="417" y="622">HEATR1</text></g>
<g id="c-MRPL34"><circle cx="468" cy="609" r="12.5" class="l"/><text x="468" y="609">MRPL34</text></g>
<g id="c-WBSCR22"><circle cx="357" cy="654" r="12.5" class="l"/><text x="357" y="654">WBSCR22</text></g>
<g id="c-RPS2"><circle cx="419" cy="654" r="12.5" class="l"/><text x="419" y="654">RPS2</text></g>
<g id="c-RPS4X"><circle cx="453" cy="666" r="12.5" class="m"/><text x="453" y="666">RPS4X</text></g>
<g id="c-NHP2L1"><circle cx="371" cy="678" r="12.5" class="l"/><text x="371" y="678">NHP2L1</text></g>
<g id="c-RPUSD2"><circle cx="462" cy="692" r="12.5" class="l"/><text x="462" y="692">RPUSD2</text></g>
<g id="c-SNRPF"><circle cx="323" cy="698" r="12.5" class="m"/><text x="323" y="698">SNRPF</text></g>
<g id="c-DDX56"><circle cx="423" cy="701" r="12.5" class="l"/><text x="423" y="701">DDX56</text></g>
<g id="c-RPS15"><circle cx="403" cy="686" r="12.5" fill="#ffc300"/><text x="403" y="686">RPS15</text></g>
<g id="c-FBL"><circle cx="373" cy="717" r="12.5" fill="#ff8800"/><text x="373" y="717">FBL</text></g>
<g id="c-RPS3"><circle cx="400" cy="718" r="12.5" fill="#ffd700"/><text x="400" y="718">RPS3</text></g>
<g id="c-EIF3F"><circle cx="475" cy="720" r="12.5" class="br"/><text x="475" y="720">EIF3F</text></g>
<g id="c-IRS2"><circle cx="303" cy="733" r="12.5" class="p"/><text x="303" y="733">IRS2</text></g>
<g id="c-EEF1G"><circle cx="432" cy="738" r="12.5" class="m"/><text x="432" y="738">EEF1G</text></g>
<g id="c-SNRPA1"><circle cx="340" cy="743" r="12.5" class="l"/><text x="340" y="743">SNRPA1</text></g>
<g id="c-LSM4"><circle cx="382" cy="763" r="12.5" class="l"/><text x="382" y="763">LSM4</text></g>
<g id="c-BANF1"><circle cx="314" cy="768" r="12.5" class="m"/><text x="314" y="768">BANF1</text></g>
<g id="c-ADA"><circle cx="409" cy="787" r="12.5" class="m"/><text x="409" y="787">ADA</text></g>
<g id="c-NPM3"><circle cx="458" cy="788" r="12.5" class="l"/><text x="458" y="788">NPM3</text></g>
<g id="c-APRT"><circle cx="332" cy="789" r="12.5" class="d"/><text x="332" y="789">APRT</text></g>
<g id="c-HIST2H2AA3"><circle cx="361" cy="817" r="12.5" class="p"/><text x="361" y="817">HIST2H2AA3</text></g>
<g id="c-HIST2H2BE"><circle cx="314" cy="831" r="12.5" class="p"/><text x="314" y="831">HIST2H2BE</text></g>
<g id="c-GPR18"><circle cx="302" cy="874" r="12.5" class="m"/><text x="302" y="874">GPR18</text></g>
</g>

<!-- ================= Panel D ================= -->
<g id="d-connectors" class="ek">
<path d="M684 677L613 702"/><path d="M684 677L750 704"/><path d="M684 677L582 777"/><path d="M684 677L652 762"/><path d="M684 677L712 787"/><path d="M684 677L782 773"/><path d="M684 677L614 845"/><path d="M684 677L752 845"/><path d="M684 677L681 873"/>
<path d="M613 702L750 704"/><path d="M613 702L582 777"/><path d="M613 702L652 762"/><path d="M613 702L712 787"/><path d="M613 702L782 773"/><path d="M613 702L614 845"/><path d="M613 702L752 845"/><path d="M613 702L681 873"/>
<path d="M750 704L582 777"/><path d="M750 704L652 762"/><path d="M750 704L712 787"/><path d="M750 704L782 773"/><path d="M750 704L614 845"/><path d="M750 704L752 845"/><path d="M750 704L681 873"/>
<path d="M582 777L652 762"/><path d="M582 777L712 787"/><path d="M582 777L782 773"/><path d="M582 777L614 845"/><path d="M582 777L752 845"/><path d="M582 777L681 873"/>
<path d="M652 762L712 787"/><path d="M652 762L782 773"/><path d="M652 762L614 845"/><path d="M652 762L752 845"/><path d="M652 762L681 873"/>
<path d="M712 787L782 773"/><path d="M712 787L614 845"/><path d="M712 787L752 845"/><path d="M712 787L681 873"/>
<path d="M782 773L614 845"/><path d="M782 773L752 845"/><path d="M782 773L681 873"/>
<path d="M614 845L752 845"/><path d="M614 845L681 873"/><path d="M752 845L681 873"/>
</g>
<g class="big">
<g id="d-RPS3"><circle cx="684" cy="677" r="25" fill="#ffd700"/><text x="684" y="677" class="bd">RPS3</text></g>
<g id="d-FBL"><circle cx="613" cy="702" r="25" fill="#ff8c0a"/><text x="613" y="702" class="bd">FBL</text></g>
<g id="d-SLAMF1"><circle cx="750" cy="704" r="25" fill="#ff8010"/><text x="750" y="704">SLAMF1</text></g>
<g id="d-TNFRSF4"><circle cx="582" cy="777" r="25" fill="#ff6a10"/><text x="582" y="777">TNFRSF4</text></g>
<g id="d-CD2"><circle cx="652" cy="762" r="25" fill="#ff5a1a"/><text x="652" y="762">CD2</text></g>
<g id="d-IL7R"><circle cx="712" cy="787" r="25" fill="#ffa500"/><text x="712" y="787">IL7R</text></g>
<g id="d-CD27"><circle cx="782" cy="773" r="25" fill="#ff2a1a"/><text x="782" y="773">CD27</text></g>
<g id="d-ITGAM"><circle cx="614" cy="845" r="25" fill="#ff4020"/><text x="614" y="845">ITGAM</text></g>
<g id="d-CCR7"><circle cx="752" cy="845" r="25" fill="#ff1a1a"/><text x="752" y="845">CCR7</text></g>
<g id="d-RPS15"><circle cx="681" cy="873" r="25" fill="#ffc800"/><text x="681" y="873" class="bd">RPS15</text></g>
</g>

<!-- ================= Panel E connectors ================= -->
<g id="e-connectors" class="en">
<path d="M120 1027L61 1058"/><path d="M120 1027L134 1093"/><path d="M61 1058L134 1093"/><path d="M61 1058L146 1140"/><path d="M168 1054L181 1097"/><path d="M168 1054L182 1132"/><path d="M216 1038L217 1085"/><path d="M267 1043L248 1094"/>
<path d="M78 1097L134 1093"/><path d="M78 1097L83 1150"/><path d="M78 1097L181 1097"/><path d="M78 1097L146 1140"/>
<path d="M134 1093L181 1097"/><path d="M134 1093L146 1140"/><path d="M134 1093L83 1150"/><path d="M134 1093L136 1197"/><path d="M134 1093L177 1169"/><path d="M134 1093L217 1085"/>
<path d="M181 1097L146 1140"/><path d="M181 1097L182 1132"/><path d="M181 1097L219 1147"/><path d="M181 1097L251 1128"/><path d="M181 1097L248 1094"/><path d="M181 1097L217 1085"/><path d="M181 1097L273 1158"/><path d="M181 1097L83 1150"/>
<path d="M217 1085L248 1094"/><path d="M217 1085L219 1147"/><path d="M217 1085L251 1128"/><path d="M217 1085L182 1132"/><path d="M217 1085L146 1140"/><path d="M217 1085L273 1158"/><path d="M217 1085L257 1186"/><path d="M217 1085L200 1200"/><path d="M217 1085L297 1083"/>
<path d="M248 1094L251 1128"/><path d="M248 1094L219 1147"/><path d="M248 1094L273 1158"/><path d="M248 1094L297 1083"/><path d="M248 1094L257 1186"/><path d="M248 1094L146 1140"/><path d="M248 1094L200 1200"/><path d="M248 1094L315 1132"/>
<path d="M297 1083L251 1128"/><path d="M297 1083L315 1132"/><path d="M297 1083L332 1102"/><path d="M297 1083L219 1147"/><path d="M297 1083L273 1158"/>
<path d="M39 1127L146 1140"/><path d="M83 1150L146 1140"/><path d="M83 1150L86 1193"/><path d="M83 1150L136 1197"/><path d="M83 1150L41 1184"/><path d="M83 1150L177 1169"/><path d="M41 1184L146 1140"/>
<path d="M146 1140L182 1132"/><path d="M146 1140L219 1147"/><path d="M146 1140L251 1128"/><path d="M146 1140L273 1158"/><path d="M146 1140L177 1169"/><path d="M146 1140L136 1197"/><path d="M146 1140L163 1217"/><path d="M146 1140L200 1200"/><path d="M146 1140L257 1186"/><path d="M146 1140L86 1193"/>
<path d="M182 1132L219 1147"/><path d="M182 1132L251 1128"/><path d="M182 1132L273 1158"/><path d="M182 1132L200 1200"/><path d="M182 1132L257 1186"/><path d="M182 1132L177 1169"/>
<path d="M219 1147L251 1128"/><path d="M219 1147L273 1158"/><path d="M219 1147L257 1186"/><path d="M219 1147L200 1200"/><path d="M219 1147L177 1169"/><path d="M219 1147L315 1132"/><path d="M219 1147L374 1146"/>
<path d="M251 1128L273 1158"/><path d="M251 1128L257 1186"/><path d="M251 1128L200 1200"/><path d="M251 1128L315 1132"/><path d="M251 1128L332 1102"/>
<path d="M273 1158L257 1186"/><path d="M273 1158L200 1200"/><path d="M273 1158L321 1165"/><path d="M273 1158L315 1132"/><path d="M273 1158L374 1146"/>
<path d="M177 1169L86 1193"/><path d="M177 1169L136 1197"/><path d="M177 1169L163 1217"/><path d="M257 1186L200 1200"/>
<path d="M200 1200L163 1217"/><path d="M200 1200L164 1258"/><path d="M200 1200L210 1263"/><path d="M200 1200L261 1248"/><path d="M163 1217L306 1219"/><path d="M261 1248L210 1263"/><path d="M261 1248L306 1219"/>
<path d="M321 1165L374 1146"/><path d="M321 1165L306 1219"/><path d="M321 1165L364 1197"/><path d="M321 1165L334 1258"/><path d="M321 1165L391 1255"/><path d="M321 1165L430 1223"/><path d="M321 1165L315 1132"/>
<path d="M374 1146L367 1087"/><path d="M374 1146L413 1081"/><path d="M374 1146L373 1043"/><path d="M374 1146L437 1121"/><path d="M374 1146L364 1197"/><path d="M374 1146L422 1171"/><path d="M374 1146L306 1219"/><path d="M374 1146L391 1255"/><path d="M374 1146L430 1223"/><path d="M374 1146L334 1258"/><path d="M374 1146L414 1026"/>
<path d="M364 1197L306 1219"/><path d="M364 1197L430 1223"/><path d="M364 1197L391 1255"/><path d="M364 1197L334 1258"/><path d="M364 1197L422 1171"/>
<path d="M306 1219L430 1223"/><path d="M306 1219L334 1258"/><path d="M306 1219L391 1255"/><path d="M306 1219L422 1171"/><path d="M422 1171L430 1223"/><path d="M422 1171L391 1255"/><path d="M430 1223L391 1255"/><path d="M430 1223L334 1258"/><path d="M334 1258L391 1255"/>
<path d="M414 1026L373 1043"/><path d="M414 1026L454 1045"/><path d="M414 1026L367 1087"/><path d="M414 1026L413 1081"/><path d="M414 1026L437 1121"/><path d="M414 1026L467 1088"/>
<path d="M373 1043L454 1045"/><path d="M373 1043L367 1087"/><path d="M373 1043L413 1081"/><path d="M373 1043L437 1121"/>
<path d="M454 1045L367 1087"/><path d="M454 1045L413 1081"/><path d="M454 1045L467 1088"/><path d="M454 1045L437 1121"/>
<path d="M367 1087L413 1081"/><path d="M367 1087L437 1121"/><path d="M367 1087L467 1088"/><path d="M413 1081L467 1088"/><path d="M413 1081L437 1121"/><path d="M467 1088L437 1121"/><path d="M332 1102L315 1132"/>
</g>

<!-- ================= Panel E nodes ================= -->
<g class="sm">
<g id="e-LMNB1"><circle cx="120" cy="1027" r="14" class="br"/><text x="120" y="1027">LMNB1</text></g>
<g id="e-BANF1"><circle cx="61" cy="1058" r="14" class="m"/><text x="61" y="1058">BANF1</text></g>
<g id="e-PRPS1"><circle cx="168" cy="1054" r="14" class="l"/><text x="168" y="1054">PRPS1</text></g>
<g id="e-GPR160"><circle cx="216" cy="1038" r="14" class="br"/><text x="216" y="1038">GPR160</text></g>
<g id="e-LRP10"><circle cx="267" cy="1043" r="14" class="br"/><text x="267" y="1043">LRP10</text></g>
<g id="e-DDX56"><circle cx="78" cy="1097" r="14" class="l"/><text x="78" y="1097">DDX56</text></g>
<g id="e-SNRPF"><circle cx="134" cy="1093" r="14" class="m"/><text x="134" y="1093">SNRPF</text></g>
<g id="e-HEATR1"><circle cx="181" cy="1097" r="14" class="l"/><text x="181" y="1097">HEATR1</text></g>
<g id="e-RPL22"><circle cx="217" cy="1085" r="14" fill="#ff6a10"/><text x="217" y="1085">RPL22</text></g>
<g id="e-RPS23"><circle cx="248" cy="1094" r="14" fill="#ff3a14"/><text x="248" y="1094">RPS23</text></g>
<g id="e-SRP14"><circle cx="297" cy="1083" r="14" class="br"/><text x="297" y="1083">SRP14</text></g>
<g id="e-CD248"><circle cx="39" cy="1127" r="14" class="br"/><text x="39" y="1127">CD248</text></g>
<g id="e-LSM4"><circle cx="83" cy="1150" r="14" class="l"/><text x="83" y="1150">LSM4</text></g>
<g id="e-FBL"><circle cx="146" cy="1140" r="14" fill="#ff8c00"/><text x="146" y="1140">FBL</text></g>
<g id="e-EEF1G"><circle cx="182" cy="1132" r="14" fill="#ffc300"/><text x="182" y="1132">EEF1G</text></g>
<g id="e-RPS3"><circle cx="219" cy="1147" r="14" fill="#ff1414"/><text x="219" y="1147">RPS3</text></g>
<g id="e-RPS15"><circle cx="251" cy="1128" r="14" fill="#ff2020"/><text x="251" y="1128">RPS15</text></g>
<g id="e-RPS2"><circle cx="273" cy="1158" r="14" fill="#ff4a10"/><text x="273" y="1158">RPS2</text></g>
<g id="e-APRT"><circle cx="177" cy="1169" r="14" class="m"/><text x="177" y="1169">APRT</text></g>
<g id="e-RPUSD2"><circle cx="41" cy="1184" r="14" class="l"/><text x="41" y="1184">RPUSD2</text></g>
<g id="e-ADA"><circle cx="86" cy="1193" r="14" class="m"/><text x="86" y="1193">ADA</text></g>
<g id="e-LSM7"><circle cx="136" cy="1197" r="14" class="br"/><text x="136" y="1197">LSM7</text></g>
<g id="e-RPL13A"><circle cx="257" cy="1186" r="14" fill="#ff8010"/><text x="257" y="1186">RPL13A</text></g>
<g id="e-EIF4B"><circle cx="200" cy="1200" r="14" fill="#ffb000"/><text x="200" y="1200">EIF4B</text></g>
<g id="e-WARS"><circle cx="163" cy="1217" r="14" class="br"/><text x="163" y="1217">WARS</text></g>
<g id="e-PAK2"><circle cx="261" cy="1248" r="14" class="q"/><text x="261" y="1248">PAK2</text></g>
<g id="e-RRAGD"><circle cx="164" cy="1258" r="14" class="p"/><text x="164" y="1258">RRAGD</text></g>
<g id="e-MYH9"><circle cx="210" cy="1263" r="14" fill="#f4b3ae"/><text x="210" y="1263">MYH9</text></g>
<g id="e-SIAH2"><circle cx="414" cy="1026" r="14" class="br"/><text x="414" y="1026">SIAH2</text></g>
<g id="e-HECW2"><circle cx="373" cy="1043" r="14" class="br"/><text x="373" y="1043">HECW2</text></g>
<g id="e-KLHL2"><circle cx="454" cy="1045" r="14" class="br"/><text x="454" y="1045">KLHL2</text></g>
<g id="e-WSB1"><circle cx="367" cy="1087" r="14" class="br"/><text x="367" y="1087">WSB1</text></g>
<g id="e-PJA2"><circle cx="413" cy="1081" r="14" class="br"/><text x="413" y="1081">PJA2</text></g>
<g id="e-KBTBD7"><circle cx="467" cy="1088" r="14" class="br"/><text x="467" y="1088">KBTBD7</text></g>
<g id="e-MRPL34"><circle cx="332" cy="1102" r="14" class="l"/><text x="332" y="1102">MRPL34</text></g>
<g id="e-KLHL3"><circle cx="437" cy="1121" r="14" class="br"/><text x="437" y="1121">KLHL3</text></g>
<g id="e-SRPRB"><circle cx="315" cy="1132" r="14" class="br"/><text x="315" y="1132">SRPRB</text></g>
<g id="e-HERC5"><circle cx="374" cy="1146" r="14" fill="#ffd700"/><text x="374" y="1146">HERC5</text></g>
<g id="e-EIF2AK2"><circle cx="321" cy="1165" r="14" class="p"/><text x="321" y="1165">EIF2AK2</text></g>
<g id="e-PARP9"><circle cx="422" cy="1171" r="14" class="br"/><text x="422" y="1171">PARP9</text></g>
<g id="e-RSAD2"><circle cx="364" cy="1197" r="14" class="br"/><text x="364" y="1197">RSAD2</text></g>
<g id="e-STAT1"><circle cx="306" cy="1219" r="14" class="br"/><text x="306" y="1219">STAT1</text></g>
<g id="e-IFIT3"><circle cx="430" cy="1223" r="14" class="br"/><text x="430" y="1223">IFIT3</text></g>
<g id="e-MX2"><circle cx="334" cy="1258" r="14" class="br"/><text x="334" y="1258">MX2</text></g>
<g id="e-IFIT2"><circle cx="391" cy="1255" r="14" class="br"/><text x="391" y="1255">IFIT2</text></g>
</g>

<!-- ================= Panel F ================= -->
<g id="f-connectors" class="ek">
<path d="M687 1045L620 1078"/><path d="M687 1045L757 1083"/><path d="M687 1045L590 1144"/><path d="M687 1045L662 1147"/><path d="M687 1045L719 1145"/><path d="M687 1045L778 1152"/><path d="M687 1045L626 1210"/><path d="M687 1045L753 1206"/><path d="M687 1045L692 1237"/>
<path d="M620 1078L757 1083"/><path d="M620 1078L590 1144"/><path d="M620 1078L662 1147"/><path d="M620 1078L719 1145"/><path d="M620 1078L778 1152"/><path d="M620 1078L626 1210"/><path d="M620 1078L753 1206"/><path d="M620 1078L692 1237"/>
<path d="M757 1083L590 1144"/><path d="M757 1083L662 1147"/><path d="M757 1083L719 1145"/><path d="M757 1083L778 1152"/><path d="M757 1083L626 1210"/><path d="M757 1083L753 1206"/><path d="M757 1083L692 1237"/>
<path d="M590 1144L662 1147"/><path d="M590 1144L719 1145"/><path d="M590 1144L778 1152"/><path d="M590 1144L626 1210"/><path d="M590 1144L753 1206"/><path d="M590 1144L692 1237"/>
<path d="M662 1147L719 1145"/><path d="M662 1147L778 1152"/><path d="M662 1147L626 1210"/><path d="M662 1147L753 1206"/><path d="M662 1147L692 1237"/>
<path d="M719 1145L778 1152"/><path d="M719 1145L626 1210"/><path d="M719 1145L753 1206"/><path d="M719 1145L692 1237"/>
<path d="M778 1152L626 1210"/><path d="M778 1152L753 1206"/><path d="M778 1152L692 1237"/>
<path d="M626 1210L753 1206"/><path d="M626 1210L692 1237"/><path d="M753 1206L692 1237"/>
</g>
<g class="big">
<g id="f-RPS3"><circle cx="687" cy="1045" r="23" fill="#ff1a1a"/><text x="687" y="1045" class="bd">RPS3</text></g>
<g id="f-EEF1G"><circle cx="620" cy="1078" r="23" fill="#ffc400"/><text x="620" y="1078">EEF1G</text></g>
<g id="f-RPS15"><circle cx="757" cy="1083" r="23" fill="#ff2020"/><text x="757" y="1083" class="bd">RPS15</text></g>
<g id="f-RPL22"><circle cx="590" cy="1144" r="23" fill="#ff6a14"/><text x="590" y="1144">RPL22</text></g>
<g id="f-RPL13A"><circle cx="662" cy="1147" r="23" fill="#ff8010"/><text x="662" y="1147">RPL13A</text></g>
<g id="f-FBL"><circle cx="719" cy="1145" r="23" fill="#ff8c00"/><text x="719" y="1145" class="bd">FBL</text></g>
<g id="f-RPS23"><circle cx="778" cy="1152" r="23" fill="#ff4a1a"/><text x="778" y="1152">RPS23</text></g>
<g id="f-RPS2"><circle cx="626" cy="1210" r="23" fill="#ff5a1a"/><text x="626" y="1210">RPS2</text></g>
<g id="f-EIF4B"><circle cx="753" cy="1206" r="23" fill="#ffad00"/><text x="753" y="1206">EIF4B</text></g>
<g id="f-HERC5"><circle cx="692" cy="1237" r="23" fill="#ffd700"/><text x="692" y="1237">HERC5</text></g>
</g>
</svg>
